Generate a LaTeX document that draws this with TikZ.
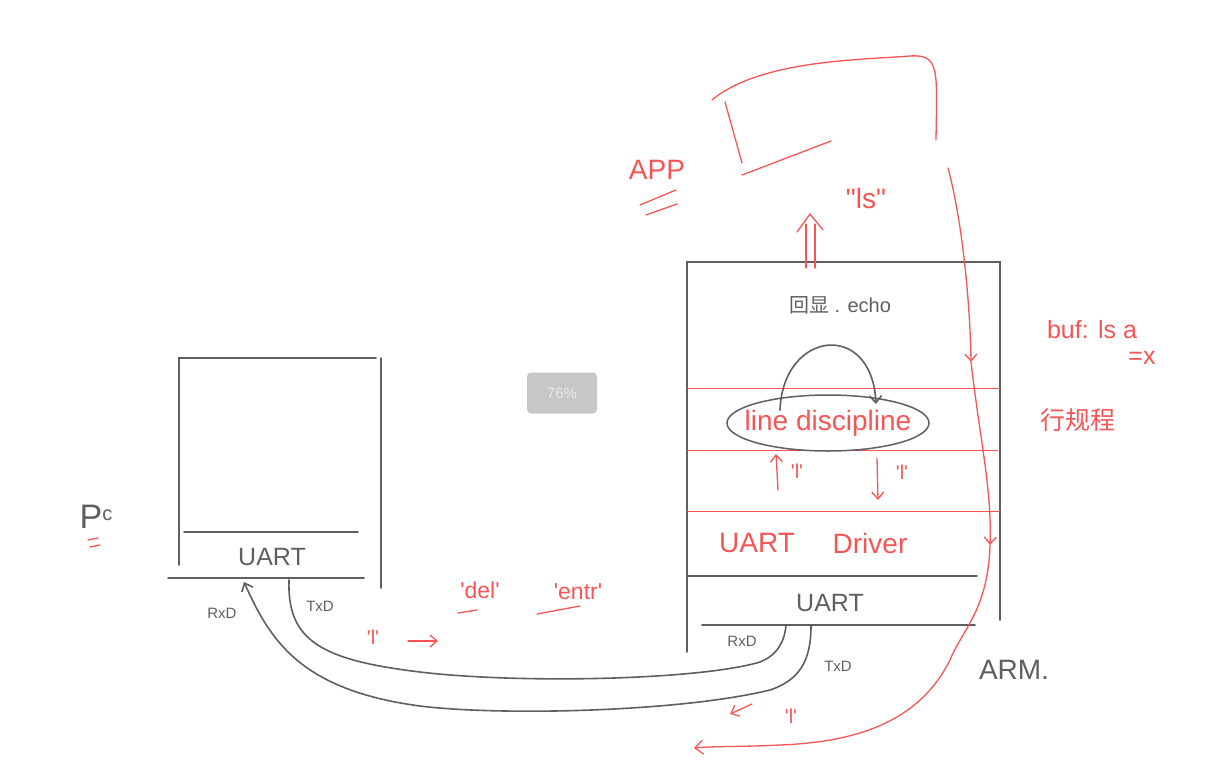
\documentclass[tikz,border=0pt]{standalone}
\usepackage{fontspec}
\setmainfont{Liberation Sans}
\newfontfamily\cjk{Noto Sans CJK SC}
\usetikzlibrary{arrows.meta}
\definecolor{pen}{RGB}{245,85,85}
\definecolor{ink}{RGB}{95,95,95}
\newcommand\sq{\textquotesingle}
\tikzset{
  gline/.style={draw=ink, line width=1.6pt, line cap=round},
  rline/.style={draw=pen, line width=1.3pt, line cap=round},
  gtext/.style={text=ink, font=\fontsize{25}{27}\selectfont, inner sep=0pt},
  rtext/.style={text=pen, font=\fontsize{28}{30}\selectfont, inner sep=0pt},
  small/.style={text=ink, font=\fontsize{15}{17}\selectfont, inner sep=0pt},
  sarrow/.style={-{Straight Barb[length=7pt,width=12pt]}},
}
\begin{document}
\begin{tikzpicture}[x=1pt,y=-1pt]
\useasboundingbox (0,0) rectangle (1210,763);
% ---------------- PC box
\draw[gline] (179,565) -- (179,358) -- (376,358);
\draw[gline] (381,358) -- (381,588);
\draw[gline] (184,532) -- (358,532);
\draw[gline] (168,578) -- (364,578);
\node[gtext] (pcuart) at (272,557) {UART};
\node[small] (pcrxd) at (222,613) {RxD};
\node[small] (pctxd) at (320,606) {TxD};
\node[text=ink, font=\fontsize{34}{36}\selectfont, inner sep=0pt] (pc) at (96,517) {P\raisebox{8pt}{\fontsize{20}{22}\selectfont c}};
\draw[rline] (88,540) -- (98,538);
\draw[rline] (90,547) -- (100,545);
% ---------------- ARM box
\draw[gline] (687,652) -- (687,262) -- (1000,262) -- (1000,620);
\draw[draw=pen, line width=1pt] (687,388) -- (1000,388);
\draw[draw=pen, line width=1pt] (687,450) -- (998,450);
\draw[draw=pen, line width=1pt] (687,511) -- (1000,511);
\draw[gline] (687,576) -- (977,576);
\draw[gline] (702,625) -- (975,625);
\node[gtext] (armuart) at (830,603) {UART};
\node[small] (armrxd) at (742,641) {RxD};
\node[small] (armtxd) at (838,666) {TxD};
\node[gtext, font=\fontsize{28}{30}\selectfont] (arm) at (1014,670) {ARM.};
% echo
\node[gtext, font=\fontsize{20}{22}\selectfont] (echo) at (840,305) {{\cjk 回显} . echo};
\node[rtext] (ld) at (828,423) {line discipline};
\draw[draw=ink, line width=1.5pt] (ld) ellipse [x radius=101pt, y radius=28pt];
\coordinate (ea) at (780,410);
\coordinate (eb) at (876,404);
\draw[gline, sarrow] (ea) .. controls (783,330) and (872,320) .. (eb);
% l arrows
\coordinate (u1) at (778,490);
\coordinate (u2) at (776,454);
\draw[rline, sarrow] (u1) -- (u2);
\node[rtext, font=\fontsize{20}{22}\selectfont] (ul) at (797,471) {\sq l\sq};
\coordinate (d1) at (877,458);
\coordinate (d2) at (878,500);
\draw[rline, sarrow] (d1) -- (d2);
\node[rtext, font=\fontsize{20}{22}\selectfont] (dl) at (902,472) {\sq l\sq};
\node[rtext] (ud) at (757,543) {UART};
\node[rtext] (drv) at (870,543) {Driver};
% right notes
\node[rtext, font=\fontsize{25}{27}\selectfont] (buf) at (1092,330) {buf: ls a};
\node[rtext, font=\fontsize{25}{27}\selectfont] (bx) at (1142,358) {=x};
\node[rtext, font=\fontsize{25}{27}\selectfont] (hgc) at (1078,420) {\cjk 行规程};
% ---------------- APP
\draw[rline] (712,100) .. controls (760,60) and (860,60) .. (910,56) .. controls (940,54) and (937,70) .. (936,140);
\draw[rline] (725,102) -- (742,163);
\draw[rline] (742,175) -- (831,141);
\node[rtext, font=\fontsize{28}{30}\selectfont] (app) at (657,170) {APP};
\draw[rline] (640,205) -- (676,190);
\draw[rline] (646,215) -- (677,204);
\node[rtext, font=\fontsize{28}{30}\selectfont] (ls) at (866,198) {\textquotedbl ls\textquotedbl};
\draw[rline] (806,268) -- (806,224);
\draw[rline] (815,268) -- (815,224);
\coordinate (dtip) at (810,214);
\draw[rline] (797,232) -- (dtip) -- (823,230);
% big red loop
\coordinate (r0) at (948,168);
\coordinate (r1) at (971,362);
\coordinate (r2) at (990,545);
\coordinate (r3) at (694,748);
\draw[rline, sarrow] (r0) .. controls (962,220) and (970,300) .. (r1);
\draw[rline, sarrow] (r1) .. controls (980,440) and (992,490) .. (r2);
\draw[rline, -{Straight Barb[length=8pt,width=14pt]}] (r2) .. controls (988,610) and (962,630) .. (950,660) .. controls (920,720) and (860,742) .. (780,745) .. controls (740,747) and (715,746) .. (r3);
% ---------------- cables
\coordinate (pt) at (289,580);
\draw[gline] (pt) .. controls (287,640) and (320,660) .. (420,672) .. controls (520,684) and (700,680) .. (760,662) .. controls (778,655) and (785,640) .. (786,625);
\coordinate (prx) at (244,582);
\draw[gline, {Straight Barb[length=7pt,width=12pt]}-] (prx) .. controls (270,640) and (300,690) .. (420,706) .. controls (500,716) and (680,712) .. (770,690) .. controls (800,680) and (811,660) .. (811,626);
% red labels on cable
\node[rtext, font=\fontsize{20}{22}\selectfont] (l1) at (373,637) {\sq l\sq};
\coordinate (a1) at (408,641);
\coordinate (a2) at (438,641);
\draw[rline, sarrow] (a1) -- (a2);
\node[rtext, font=\fontsize{23}{25}\selectfont] (del) at (480,590) {\sq del\sq};
\draw[rline] (458,613) -- (477,610);
\node[rtext, font=\fontsize{23}{25}\selectfont] (entr) at (578,592) {\sq entr\sq};
\draw[rline] (537,614) -- (580,606);
\coordinate (b1) at (752,704);
\coordinate (b2) at (730,714);
\draw[rline, sarrow] (b1) -- (b2);
\node[rtext, font=\fontsize{20}{22}\selectfont] (l2) at (791,716) {\sq l\sq};
% zoom overlay
\node[fill=black!22, rounded corners=4pt, minimum width=70pt, minimum height=41pt, inner sep=0pt, text=white!92!black, font=\fontsize{15}{17}\selectfont] (zoomind) at (562,393) {76\%};
\end{tikzpicture}
\end{document}
